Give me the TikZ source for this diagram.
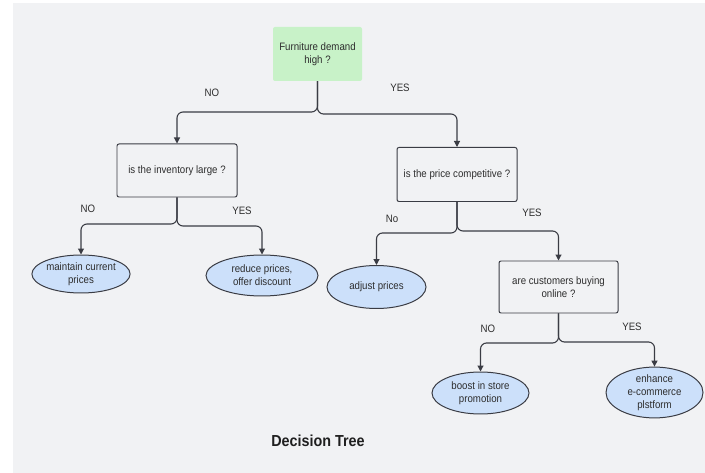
\documentclass[tikz,border=0pt]{standalone}
\usepackage{fontspec}
\setmainfont{Liberation Sans}[FakeStretch=0.9]
\usetikzlibrary{arrows.meta,shapes.geometric}
\definecolor{bgpanel}{HTML}{F1F2F4}
\definecolor{rootfill}{HTML}{C8F2C8}
\definecolor{leaffill}{HTML}{CCE0FA}
\definecolor{edge}{HTML}{3A3C44}
\definecolor{txt}{HTML}{2E2E2E}
\tikzset{
  question/.style={draw=edge, line width=1pt, rounded corners=2bp, fill=bgpanel,
    minimum width=120bp, minimum height=53bp, align=center, text=txt,
    font=\fontsize{10.8}{13}\selectfont},
  rootbox/.style={fill=rootfill, rounded corners=2bp, minimum width=89bp,
    minimum height=54bp, align=center, text=txt, font=\fontsize{10.8}{13}\selectfont},
  leaf/.style={draw=edge, line width=1pt, ellipse, fill=leaffill, align=center,
    text=txt, inner sep=0pt, font=\fontsize{10.8}{13}\selectfont},
  branch/.style={draw=edge, line width=1.1pt, rounded corners=6bp,
    -{Triangle[length=6bp,width=6bp]}},
  answer/.style={text=txt, font=\fontsize{10.8}{13}\selectfont}
}
\begin{document}
\begin{tikzpicture}[x=1bp, y=-1bp]
  \useasboundingbox (0,0) rectangle (705,473);
  \fill[white] (0,0) rectangle (705,473);
  \fill[bgpanel] (13,3) rectangle (705,473);

  % decision boxes
  \node[rootbox] (root) at (317.5,54) {Furniture demand\\high ?};
  \node[question] (inv) at (177,170.5) {is the inventory large ?};
  \node[question, minimum height=54bp] (price) at (457,174.5) {is the price competitive ?};
  \node[question, minimum width=119bp, minimum height=52bp] (online) at (558.5,287) {are customers buying\\online ?};

  % outcomes
  \node[leaf, minimum width=98bp, minimum height=38bp] (keep) at (81,274) {maintain current\\prices};
  \node[leaf, minimum width=112bp, minimum height=41bp] (reduce) at (262,275.5) {reduce prices,\\offer discount};
  \node[leaf, minimum width=99bp, minimum height=43bp] (adjust) at (376.5,287) {adjust prices};
  \node[leaf, minimum width=97bp, minimum height=42bp] (boost) at (480.5,393) {boost in store\\promotion};
  \node[leaf, minimum width=97bp, minimum height=45bp] (shop) at (654.5,392.5) {enhance\\e-commerce\\plstform};

  % branches
  \draw[branch] (root.south) -- (root.south |- 0,112) -- (inv.north |- 0,112) -- (inv.north);
  \draw[branch] (root.south) -- (root.south |- 0,114) -- (price.north |- 0,114) -- (price.north);
  \draw[branch] (inv.south) -- (inv.south |- 0,224) -- (keep.north |- 0,224) -- (keep.north);
  \draw[branch] (inv.south) -- (inv.south |- 0,226) -- (reduce.north |- 0,226) -- (reduce.north);
  \draw[branch] (price.south) -- (price.south |- 0,233) -- (adjust.north |- 0,233) -- (adjust.north);
  \draw[branch] (price.south) -- (price.south |- 0,231) -- (online.north |- 0,231) -- (online.north);
  \draw[branch] (online.south) -- (online.south |- 0,343) -- (boost.north |- 0,343) -- (boost.north);
  \draw[branch] (online.south) -- (online.south |- 0,342) -- (shop.north |- 0,342) -- (shop.north);

  % branch labels
  \node[answer] (l1) at (212,93) {NO};
  \node[answer] (l2) at (400,88) {YES};
  \node[answer] (l3) at (88,209) {NO};
  \node[answer] (l4) at (242,211) {YES};
  \node[answer] (l5) at (392,219) {No};
  \node[answer] (l6) at (532,213) {YES};
  \node[answer] (l7) at (488,329) {NO};
  \node[answer] (l8) at (632,327) {YES};

  \node[font=\bfseries\fontsize{16}{19}\selectfont, text=black!88] (title) at (318,441) {Decision Tree};
\end{tikzpicture}
\end{document}
